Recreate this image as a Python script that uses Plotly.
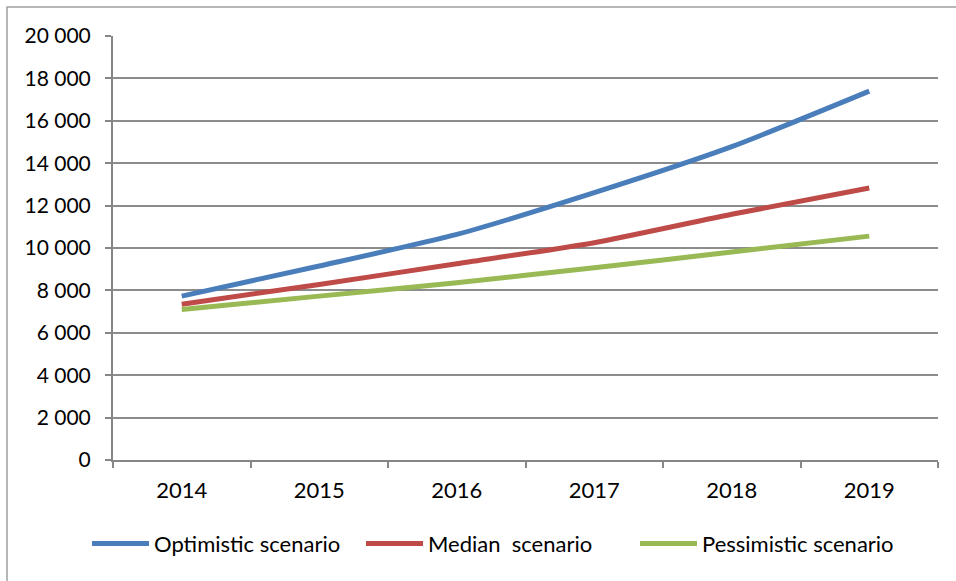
import plotly.graph_objects as go

years = ["2014", "2015", "2016", "2017", "2018", "2019"]
optimistic = [7730, 9150, 10640, 12610, 14780, 17400]
median = [7350, 8280, 9260, 10250, 11590, 12830]
pessimistic = [7100, 7730, 8360, 9070, 9810, 10560]
y_ticks = [0, 2000, 4000, 6000, 8000, 10000, 12000, 14000, 16000, 18000, 20000]

series = [
    ("Optimistic scenario", optimistic, "#4A7EBB"),
    ("Median  scenario", median, "#BE4B48"),
    ("Pessimistic scenario", pessimistic, "#98B954"),
]

fig = go.Figure()
for name, vals, col in series:
    fig.add_trace(go.Scatter(
        x=years, y=vals, name=name, mode="lines",
        line=dict(color=col, width=5, shape="spline", smoothing=0.6),
    ))

FONT = "Lato"
fig.update_layout(
    width=956, height=581,
    margin=dict(l=113, r=18, t=36, b=121, autoexpand=False),
    paper_bgcolor="white", plot_bgcolor="white",
    font=dict(family=FONT, size=22, color="black"),
    separators=". ",
    showlegend=True,
    legend=dict(
        orientation="h", x=(87 - 113) / 825, xanchor="left", y=-0.148, yanchor="top",
        font=dict(family=FONT, size=22, color="black"),
        itemwidth=57, entrywidth=202, entrywidthmode="pixels",
        traceorder="normal",
    ),
    xaxis=dict(
        type="category", range=[-0.5, 5.5],
        showline=True, linecolor="#868686", linewidth=2,
        ticks="outside", tickson="boundaries", ticklen=6, tickcolor="#868686", tickwidth=2,
        ticklabelstandoff=10,
        showgrid=False, zeroline=False,
    ),
    yaxis=dict(
        range=[0, 20000], tickvals=y_ticks, tickformat=",d",
        showline=True, linecolor="#868686", linewidth=2,
        ticks="outside", ticklen=6, tickcolor="#868686", tickwidth=2,
        ticklabelstandoff=10, tickfont=dict(size=21),
        showgrid=True, gridcolor="#8C8C8C", gridwidth=1.5,
        zeroline=False,
    ),
    shapes=[dict(
        type="rect", xref="paper", yref="paper",
        x0=(7 - 113) / 825, x1=1.2, y0=-0.4, y1=1 + (36 - 7) / 424,
        line=dict(color="#A0A0A0", width=1.5), fillcolor="rgba(0,0,0,0)",
        layer="below",
    )],
)

fig.write_html("out.html")
